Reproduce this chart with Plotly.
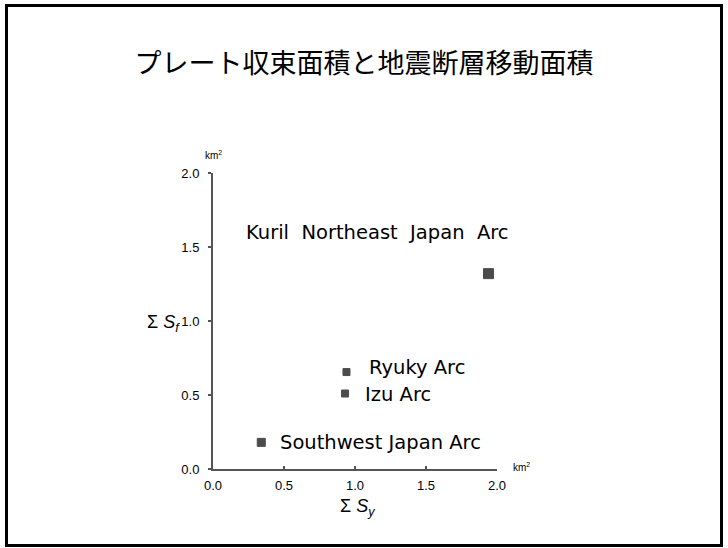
import plotly.graph_objects as go

# ---- data ----
arcs = ["Kuril  Northeast  Japan  Arc", "Ryuky Arc", "Izu Arc", "Southwest Japan Arc"]
sum_sy = [1.94, 0.94, 0.93, 0.34]
sum_sf = [1.32, 0.655, 0.51, 0.18]
tick_vals = [0.0, 0.5, 1.0, 1.5, 2.0]
tick_text = ["0.0", "0.5", "1.0", "1.5", "2.0"]
title_text = "プレート収束面積と地震断層移動面積"

# ---- layout constants (pixels) ----
W, H = 728, 548
L, R, T, B = 213, 497, 173, 469  # plot area edges

def px(xp):
    return (xp - L) / (R - L)

def py(yp):
    return (B - yp) / (B - T)

latin = "Liberation Sans, Arial, sans-serif"
label_font = "DejaVu Sans, sans-serif"
cjk = "Noto Sans CJK JP, sans-serif"
axis_col = "#555555"

marker_sizes = [10, 7, 7, 8]
label_shift = [(-244, 41), (21, 5), (18, -1), (17, 0)]

fig = go.Figure()
fig.add_trace(go.Scatter(
    x=sum_sy, y=sum_sf, mode="markers",
    marker=dict(symbol="square", color="#000000", size=marker_sizes, line=dict(width=1, color="#000000")),
    showlegend=False, hoverinfo="skip",
))

annotations = []
for name, xv, yv, (dx, dy) in zip(arcs, sum_sy, sum_sf, label_shift):
    annotations.append(dict(
        x=xv, y=yv, xref="x", yref="y", text=name.replace(" ", "&nbsp;"),
        showarrow=False, xanchor="left", yanchor="middle",
        xshift=dx, yshift=dy, font=dict(family=label_font, size=19.5, color="black"),
    ))

# units
annotations.append(dict(x=0, y=2, xref="x", yref="y", text="km<sup>2</sup>", showarrow=False,
                        xanchor="center", yanchor="middle", yshift=18,
                        font=dict(family=latin, size=10, color="black")))
annotations.append(dict(x=2, y=0, xref="x", yref="y", text="km<sup>2</sup>", showarrow=False,
                        xanchor="center", yanchor="middle", xshift=24, yshift=2,
                        font=dict(family=latin, size=10, color="black")))
# axis titles
annotations.append(dict(x=0, y=1.0, xref="x", yref="y", text="Σ&nbsp;<i>S</i><sub><i>f</i></sub>",
                        showarrow=False, xanchor="right", yanchor="middle", xshift=-31, yshift=-2,
                        font=dict(family=latin, size=18, color="black")))
annotations.append(dict(x=1.02, y=0, xref="x", yref="y", text="Σ&nbsp;<i>S</i><sub><i>y</i></sub>",
                        showarrow=False, xanchor="center", yanchor="middle", yshift=-38,
                        font=dict(family=latin, size=18, color="black")))

fig.update_layout(
    width=W, height=H,
    margin=dict(l=L, r=W - R, t=T, b=H - B),
    paper_bgcolor="white", plot_bgcolor="white",
    title=dict(text=title_text, x=0.5, xanchor="center", y=1 - 64 / H, yanchor="middle",
               font=dict(family=cjk, size=27, color="black")),
    xaxis=dict(range=[0, 2], tickvals=tick_vals, ticktext=tick_text, showgrid=False, zeroline=False,
               showline=True, linecolor=axis_col, linewidth=2, ticks="inside", ticklen=3,
               tickcolor=axis_col, tickwidth=1.5, ticklabelstandoff=3,
               tickfont=dict(family=latin, size=13, color="black"), fixedrange=True),
    yaxis=dict(range=[0, 2], tickvals=tick_vals, ticktext=tick_text, showgrid=False, zeroline=False,
               showline=True, linecolor=axis_col, linewidth=2, ticks="outside", ticklen=3,
               tickcolor=axis_col, tickwidth=1.5, ticklabelstandoff=6,
               tickfont=dict(family=latin, size=13, color="black"), fixedrange=True),
    annotations=annotations,
    shapes=[dict(type="rect", xref="paper", yref="paper",
                 x0=px(6.5), x1=px(721.5), y0=py(545.5), y1=py(5.5),
                 line=dict(color="black", width=3))],
)

fig.write_html("out.html", config={"displayModeBar": False})
